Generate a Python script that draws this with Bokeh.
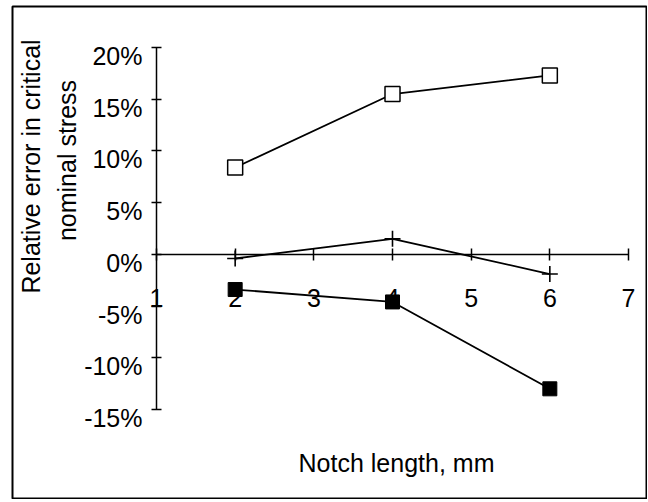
from bokeh.plotting import figure
from bokeh.models import (LinearAxis, FixedTicker, Label, Range1d, CustomJSTickFormatter)
from bokeh.embed import file_html
from bokeh.resources import INLINE
import math

# ---- data ----
notch_length = [2, 4, 6]
open_sq = [0.084, 0.155, 0.173]
plus_vals = [-0.004, 0.015, -0.019]
filled_sq = [-0.034, -0.046, -0.130]
x_ticks = [1, 2, 3, 4, 5, 6, 7]
y_ticks = [-0.15, -0.10, -0.05, 0.0, 0.05, 0.10, 0.15, 0.20]

# ---- layout ----
W, H = 647, 499
ML, MT, MR, MB = 12, 6, 1, 1
FW, FH = W - ML - MR, H - MT - MB
x0, x1 = -0.8305, 7.2288
y0, y1 = -0.23605, 0.23964

def dx(page_x):
    return x0 + (page_x - ML) / FW * (x1 - x0)

def dy(page_y):
    return y1 - (page_y - MT) / FH * (y1 - y0)

FONT = "Liberation Sans"
FS = "25px"

p = figure(width=W, height=H, output_backend="svg", toolbar_location=None,
           x_range=Range1d(x0, x1), y_range=Range1d(y0, y1),
           x_axis_location=None, y_axis_location=None,
           min_border_left=ML, min_border_top=MT, min_border_right=MR, min_border_bottom=MB,
           title=None)
p.xgrid.visible = False
p.ygrid.visible = False
p.outline_line_color = "black"
p.outline_line_width = 2
p.background_fill_color = "white"
p.border_fill_color = "white"

xaxis = LinearAxis(fixed_location=0, bounds=(1, 7), ticker=FixedTicker(ticks=x_ticks, minor_ticks=[]),
                   major_tick_in=6, major_tick_out=6, minor_tick_in=0, minor_tick_out=0,
                   major_label_standoff=29, axis_line_width=1.5, major_tick_line_width=1.5,
                   major_label_text_font=FONT, major_label_text_font_size=FS,
                   major_label_text_color="black")
p.add_layout(xaxis, "below")

# y axis: line and ticks at true positions (labels come from the axis below)
yaxis = LinearAxis(fixed_location=1, bounds=(-0.15, 0.20), ticker=FixedTicker(ticks=y_ticks, minor_ticks=[]),
                   formatter=CustomJSTickFormatter(code="return '';"),
                   major_tick_in=5, major_tick_out=5, minor_tick_in=0, minor_tick_out=0,
                   axis_line_width=1.5, major_tick_line_width=1.5)
p.add_layout(yaxis, "left")

# y tick labels, drawn slightly below their ticks as in the original
shift = 8.5 / FH * (y1 - y0)
ylabels = LinearAxis(fixed_location=1,
                     ticker=FixedTicker(ticks=[t - shift for t in y_ticks], minor_ticks=[]),
                     formatter=CustomJSTickFormatter(args=dict(s=shift),
                                                     code="return Math.round((tick + s) * 100) + '%';"),
                     axis_line_color=None, major_tick_line_color=None,
                     major_tick_in=0, major_tick_out=5, minor_tick_in=0, minor_tick_out=0,
                     major_label_standoff=9,
                     major_label_text_font=FONT, major_label_text_font_size=FS,
                     major_label_text_color="black")
p.add_layout(ylabels, "left")

# ---- series ----
p.line(notch_length, open_sq, line_color="black", line_width=1.8)
p.scatter(notch_length, open_sq, marker="square", size=15, fill_color="white",
          line_color="black", line_width=1.5)

p.line(notch_length, plus_vals, line_color="black", line_width=1.8)
p.scatter(notch_length, plus_vals, marker="cross", size=16, line_color="black", line_width=1.6)

p.line(notch_length, filled_sq, line_color="black", line_width=1.8)
p.scatter(notch_length, filled_sq, marker="square", size=14, fill_color="black",
          line_color="black")

# ---- axis titles ----
p.add_layout(Label(x=dx(396), y=dy(462), text="Notch length, mm",
                   text_font=FONT, text_font_size=FS, text_align="center",
                   text_baseline="middle", text_color="black"))
p.add_layout(Label(x=dx(30), y=dy(166), text="Relative error in critical",
                   angle=math.pi / 2, text_font=FONT, text_font_size=FS,
                   text_align="center", text_baseline="middle", text_color="black"))
p.add_layout(Label(x=dx(66), y=dy(160), text="nominal stress",
                   angle=math.pi / 2, text_font=FONT, text_font_size=FS,
                   text_align="center", text_baseline="middle", text_color="black"))

open("out.html", "w").write(file_html(p, INLINE))
